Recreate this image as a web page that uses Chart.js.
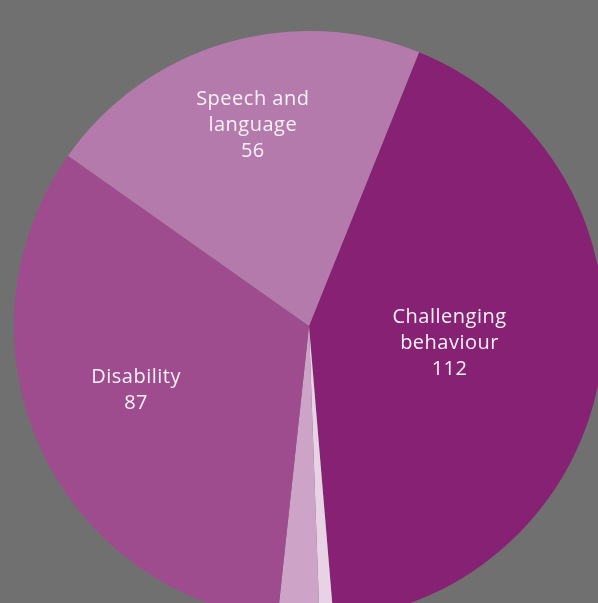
<!DOCTYPE html>
<html>
<head>
<meta charset="utf-8">
<script src="https://cdn.jsdelivr.net/npm/chart.js@4"></script>
<style>
  html, body { margin: 0; padding: 0; background: #707071; }
  #wrap { width: 598px; height: 603px; overflow: hidden; }
</style>
</head>
<body>
<div id="wrap"><canvas id="chart" width="598" height="603"></canvas></div>
<script>
// slices, clockwise from the top-right split
const categories = ["Challenging behaviour", "Other (a)", "Other (b)", "Disability", "Speech and language"];
const values = [112, 2, 6, 87, 56];
const sliceColors = ["#872174", "#e8d3e5", "#cda3c8", "#9e4c8e", "#b57aac"];
// text printed inside each slice (empty = no label)
const labelLines = [["Challenging", "behaviour"], [], [], ["Disability"], ["Speech and", "language"]];

// where the label sits: fraction of the radius and a small angle nudge (deg)
const labelRadius = [0.48, 0, 0, 0.625, 0.707];
const labelNudge = [-1.6, 0, 0, 4, 0.8];

const sliceLabels = {
  id: "sliceLabels",
  afterDatasetsDraw(chart) {
    const ctx = chart.ctx;
    const meta = chart.getDatasetMeta(0);
    ctx.save();
    ctx.font = "20px 'Open Sans'";
    ctx.letterSpacing = "0.5px";
    ctx.fillStyle = "#f9f2f8";
    ctx.textAlign = "center";
    ctx.textBaseline = "middle";
    meta.data.forEach((arc, i) => {
      if (!labelLines[i].length) return;
      const mid = (arc.startAngle + arc.endAngle) / 2 + labelNudge[i] * Math.PI / 180;
      const d = arc.outerRadius * labelRadius[i];
      const cx = arc.x + Math.cos(mid) * d;
      const cy = arc.y + Math.sin(mid) * d;
      const lines = labelLines[i].concat([String(values[i])]);
      const lh = 26;
      const top = cy - (lines.length - 1) * lh / 2;
      lines.forEach((t, k) => ctx.fillText(t, cx, top + k * lh));
    });
    ctx.restore();
  }
};

new Chart(document.getElementById("chart").getContext("2d"), {
  type: "pie",
  data: {
    labels: categories,
    datasets: [{
      data: values,
      backgroundColor: sliceColors,
      borderWidth: 0,
      clip: false
    }]
  },
  options: {
    responsive: false,
    animation: false,
    rotation: 21.9,
    radius: 295,
    layout: { padding: { left: 20, right: 0, top: 49, bottom: 0 } },
    plugins: {
      legend: { display: false },
      tooltip: { enabled: false }
    }
  },
  plugins: [sliceLabels]
});
</script>
</body>
</html>
